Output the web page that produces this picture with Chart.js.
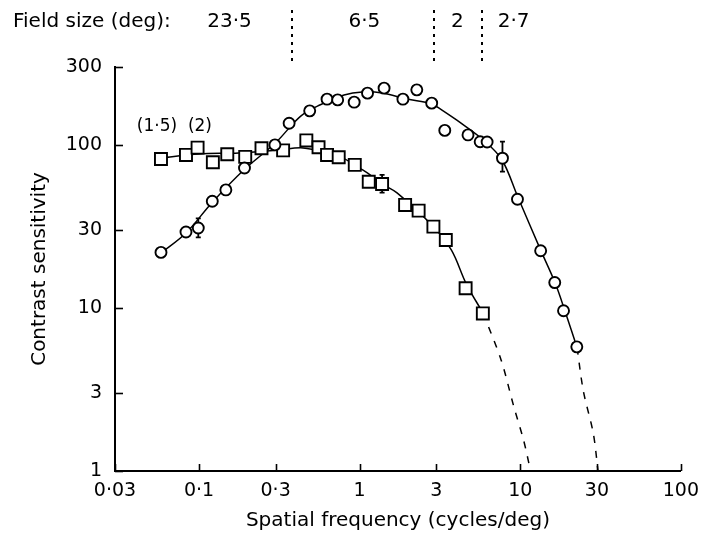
<!DOCTYPE html>
<html>
<head>
<meta charset="utf-8">
<script src="https://cdn.jsdelivr.net/npm/chart.js@4.4.0/dist/chart.umd.min.js"></script>
<style>
  html, body { margin: 0; padding: 0; background: #fff; }
</style>
</head>
<body>
<canvas id="grafica" width="708" height="536"></canvas>
<script>
// circulos
const circFreq = [0.058, 0.083, 0.099, 0.121, 0.147, 0.192, 0.297, 0.364, 0.489, 0.627, 0.730, 0.925, 1.12, 1.42, 1.86, 2.27, 2.81, 3.39, 4.73, 5.63, 6.22, 7.75, 9.61, 13.4, 16.4, 18.6, 22.5];
const circSens = [21.9, 29.2, 30.9, 45.1, 52.9, 72.1, 99.9, 135.7, 161.5, 190.5, 188.6, 182.6, 207.4, 222.6, 190.5, 217.3, 180.1, 122.6, 115, 104.5, 104, 82.8, 46.4, 22.4, 14.3, 9.6, 5.77];

// cuadrados
const cuadFreq = [0.058, 0.083, 0.098, 0.122, 0.150, 0.194, 0.245, 0.334, 0.466, 0.555, 0.627, 0.741, 0.933, 1.14, 1.38, 1.92, 2.33, 2.88, 3.44, 4.57, 5.85];
const cuadSens = [81.9, 86.7, 96.1, 78.2, 87.6, 84.3, 95.3, 92.4, 106.4, 96.7, 86.7, 83.9, 75.3, 59.4, 57.5, 42.8, 39.5, 31.5, 26.1, 13.2, 9.25];

// curvas ajustadas
const curvaCircFreq = [0.058, 0.083, 0.12, 0.19, 0.30, 0.43, 0.57, 0.80, 1.04, 1.38, 1.97, 2.81, 3.24, 4.01, 5.96, 7.69, 9.65, 13.4, 16.5, 19.1, 22.6];
const curvaCircSens = [21.7, 28.8, 44, 70, 103, 150, 176, 202, 211, 208, 191, 178, 164, 142, 106, 81, 48, 22.6, 14.2, 9.4, 5.7];
const extCircFreq = [22.6, 24.7, 28.5, 30.5];
const extCircSens = [5.7, 3.1, 1.7, 1];

const curvaCuadFreq = [0.058, 0.100, 0.177, 0.312, 0.444, 0.633, 0.784, 0.929, 1.117, 1.382, 1.71, 2.85, 3.73, 4.62, 5.87];
const curvaCuadSens = [83.1, 87.9, 89.2, 93.0, 95.7, 89.2, 83.1, 75.3, 67.2, 57.5, 50.7, 31.8, 22.6, 14.0, 9.29];
const extCuadFreq = [5.87, 7.6, 9.1, 10.5, 11.6];
const extCuadSens = [9.29, 4.8, 2.5, 1.54, 1];

// barras de error: [frecuencia, bajo, alto]
const barrasError = [[0.099, 27.1, 35.4], [1.38, 50.9, 65.4], [7.75, 68.5, 104.6]];

const xTicks = [0.03, 0.1, 0.3, 1, 3, 10, 30, 100];
const xTickLabels = ['0·03', '0·1', '0·3', '1', '3', '10', '30', '100'];
const yTicks = [1, 3, 10, 30, 100, 300];
const yTickLabels = ['1', '3', '10', '30', '100', '300'];

const fieldSizes = ['23·5', '6·5', '2', '2·7'];
const fieldBounds = [0.38, 2.9, 5.8];

const negro = '#000';
const fuente = 'DejaVu Sans';

function puntos(xs, ys) {
  return xs.map((v, i) => ({ x: v, y: ys[i] }));
}

const extras = {
  id: 'extras',
  afterDraw(chart) {
    const { ctx, chartArea } = chart;
    const x = chart.scales.x;
    const y = chart.scales.y;
    ctx.save();
    ctx.strokeStyle = negro;
    ctx.fillStyle = negro;
    ctx.lineWidth = 1.6;

    // marcas hacia dentro
    for (const v of xTicks) {
      const px = Math.round(x.getPixelForValue(v)) + 0.5;
      ctx.beginPath();
      ctx.moveTo(px, chartArea.bottom);
      ctx.lineTo(px, chartArea.bottom - 7);
      ctx.stroke();
    }
    for (const v of yTicks) {
      const py = Math.round(y.getPixelForValue(v)) + 0.5;
      ctx.beginPath();
      ctx.moveTo(chartArea.left, py);
      ctx.lineTo(chartArea.left + 8, py);
      ctx.stroke();
    }

    // tamaño de campo arriba
    ctx.font = '20px "' + fuente + '"';
    ctx.textBaseline = 'middle';
    ctx.textAlign = 'left';
    ctx.fillText('Field size (deg):', 13, 22);
    const posEtiq = [0.155, 1.07, 4.06, 9.1];
    ctx.textAlign = 'center';
    fieldSizes.forEach((t, i) => ctx.fillText(t, x.getPixelForValue(posEtiq[i]), 22));

    ctx.lineWidth = 2;
    ctx.setLineDash([3, 5]);
    fieldBounds.forEach(v => {
      const px = Math.round(x.getPixelForValue(v));
      ctx.beginPath();
      ctx.moveTo(px, 10);
      ctx.lineTo(px, 64);
      ctx.stroke();
    });
    ctx.setLineDash([]);

    ctx.font = '17px "' + fuente + '"';
    ctx.textAlign = 'left';
    ctx.fillText('(1·5)  (2)', x.getPixelForValue(0.041), y.getPixelForValue(129));
    ctx.restore();
  }
};

const datasets = [
  {
    label: 'circulos',
    data: puntos(circFreq, circSens),
    pointStyle: 'circle',
    pointRadius: 5.5,
    pointBorderWidth: 1.9,
    pointBorderColor: negro,
    pointBackgroundColor: '#fff',
    showLine: false,
    order: 0
  },
  {
    label: 'cuadrados',
    data: puntos(cuadFreq, cuadSens),
    pointStyle: 'rect',
    pointRadius: 8.5,
    pointBorderWidth: 1.9,
    pointBorderColor: negro,
    pointBackgroundColor: '#fff',
    showLine: false,
    order: 0
  },
  {
    label: 'curva circulos',
    data: puntos(curvaCircFreq, curvaCircSens),
    showLine: true,
    borderColor: negro,
    borderWidth: 1.5,
    tension: 0.35,
    pointRadius: 0,
    order: 2
  },
  {
    label: 'curva cuadrados',
    data: puntos(curvaCuadFreq, curvaCuadSens),
    showLine: true,
    borderColor: negro,
    borderWidth: 1.5,
    tension: 0.35,
    pointRadius: 0,
    order: 2
  },
  {
    label: 'ext circulos',
    data: puntos(extCircFreq, extCircSens),
    showLine: true,
    borderColor: negro,
    borderWidth: 1.5,
    borderDash: [7, 8],
    tension: 0.3,
    pointRadius: 0,
    order: 2
  },
  {
    label: 'ext cuadrados',
    data: puntos(extCuadFreq, extCuadSens),
    showLine: true,
    borderColor: negro,
    borderWidth: 1.5,
    borderDash: [7, 8],
    tension: 0.3,
    pointRadius: 0,
    order: 2
  }
];

barrasError.forEach(b => {
  datasets.push({
    label: 'error',
    data: [{ x: b[0], y: b[1] }, { x: b[0], y: b[2] }],
    showLine: true,
    borderColor: negro,
    borderWidth: 1.8,
    pointStyle: 'line',
    pointRadius: 2.5,
    pointBorderWidth: 1.8,
    pointBorderColor: negro,
    order: 1
  });
});

Chart.defaults.font.family = fuente;
Chart.defaults.color = negro;

new Chart(document.getElementById('grafica'), {
  type: 'scatter',
  data: { datasets: datasets },
  options: {
    responsive: false,
    animation: false,
    layout: { padding: { top: 67, right: 21, left: 0, bottom: 0 } },
    plugins: {
      legend: { display: false },
      tooltip: { enabled: false }
    },
    scales: {
      x: {
        type: 'logarithmic',
        min: 0.03,
        max: 100,
        afterBuildTicks: scale => { scale.ticks = xTicks.map(v => ({ value: v })); },
        afterFit: scale => { scale.height = 65; },
        grid: { display: false, drawTicks: false },
        border: { display: true, color: negro, width: 2 },
        ticks: {
          autoSkip: false,
          maxRotation: 0,
          padding: 9,
          font: { size: 19 },
          color: negro,
          callback: v => xTickLabels[xTicks.indexOf(v)]
        },
        title: {
          display: true,
          text: 'Spatial frequency (cycles/deg)',
          font: { size: 20, lineHeight: 1.2 },
          color: negro,
          padding: { top: 0, bottom: 3 }
        }
      },
      y: {
        type: 'logarithmic',
        min: 1,
        max: 300,
        afterBuildTicks: scale => { scale.ticks = yTicks.map(v => ({ value: v })); },
        afterFit: scale => { scale.width = 115; },
        grid: { display: false, drawTicks: false },
        border: { display: true, color: negro, width: 2 },
        ticks: {
          autoSkip: false,
          padding: 13,
          font: { size: 19 },
          color: negro,
          callback: v => yTickLabels[yTicks.indexOf(v)]
        },
        title: {
          display: true,
          text: 'Contrast sensitivity',
          font: { size: 20, lineHeight: 1.2 },
          color: negro,
          padding: { top: 28, bottom: 0 }
        }
      }
    }
  },
  plugins: [extras]
});
</script>
</body>
</html>
